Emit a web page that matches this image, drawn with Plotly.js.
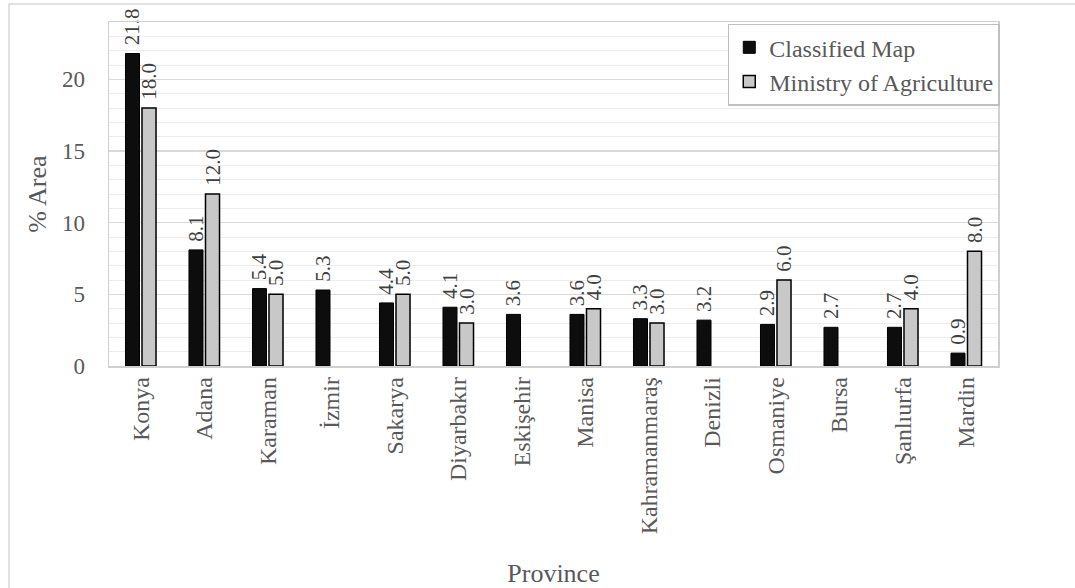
<!DOCTYPE html>
<html>
<head>
<meta charset="utf-8">
<script src="https://cdn.plot.ly/plotly-3.0.1.min.js"></script>
<style>html,body{margin:0;padding:0;background:#fff;}#chart{width:1075px;height:588px;}</style>
</head>
<body>
<div id="chart"></div>
<script>
const provinces = ["Konya","Adana","Karaman","İzmir","Sakarya","Diyarbakır","Eskişehir","Manisa","Kahramanmaraş","Denizli","Osmaniye","Bursa","Şanlıurfa","Mardin"];
const classifiedMap = [21.8, 8.1, 5.4, 5.3, 4.4, 4.1, 3.6, 3.6, 3.3, 3.2, 2.9, 2.7, 2.7, 0.9];
const ministryOfAgriculture = [18.0, 12.0, 5.0, null, 5.0, 3.0, null, 4.0, 3.0, null, 6.0, null, 4.0, 8.0];
const yTicks = [0, 5, 10, 15, 20];

const FONT = "Liberation Serif";
const labelFont = {family: FONT, size: 21, color: "#404040"};

const traces = [
  {
    type: "bar", name: "Classified Map", x: provinces, y: classifiedMap,
    marker: {color: "#0d0d0d", line: {color: "#000", width: 1}},
    texttemplate: "\u00a0%{y:.1f}", textposition: "outside", textangle: -90,
    textfont: labelFont, cliponaxis: false, constraintext: "none", hoverinfo: "x+y+name"
  },
  {
    type: "bar", name: "Ministry of Agriculture", x: provinces, y: ministryOfAgriculture,
    marker: {color: "#c8c8c8", line: {color: "#000", width: 1.5}},
    texttemplate: "\u00a0%{y:.1f}", textposition: "outside", textangle: -90,
    textfont: labelFont, cliponaxis: false, constraintext: "none", hoverinfo: "x+y+name"
  }
];

const layout = {
  width: 1075, height: 588,
  margin: {l: 109, r: 77, t: 22, b: 222},
  paper_bgcolor: "#fff", plot_bgcolor: "#fff",
  font: {family: FONT, color: "#595959", size: 23},
  barmode: "group", bargap: 0.48, bargroupgap: 0.15,
  showlegend: true,
  legend: {
    x: 1.002, xanchor: "right", y: 0.995, yanchor: "top",
    bgcolor: "#fff", bordercolor: "#bfbfbf", borderwidth: 1.5,
    font: {family: FONT, size: 24, color: "#595959"},
    tracegroupgap: 0, itemwidth: 30
  },
  xaxis: {
    type: "category", tickangle: -90, showgrid: false,
    showline: true, linecolor: "#d0d0d0", linewidth: 1.5, mirror: true,
    ticks: "", tickfont: {family: FONT, size: 24, color: "#595959"},
    title: {text: "Province", font: {family: FONT, size: 26, color: "#595959"}, standoff: 38},
    automargin: false
  },
  yaxis: {
    range: [0, 24], tickvals: yTicks, ticktext: yTicks.map(String),
    showgrid: true, gridcolor: "#d9d9d9", gridwidth: 1.5,
    minor: {dtick: 1, showgrid: true, gridcolor: "#ececec", gridwidth: 1, ticks: ""},
    showline: true, linecolor: "#d0d0d0", linewidth: 1.5, mirror: true,
    zeroline: false, ticks: "", ticklen: 0, ticklabelstandoff: 18,
    tickfont: {family: FONT, size: 23, color: "#595959"},
    title: {text: "% Area", font: {family: FONT, size: 26, color: "#595959"}, standoff: 8},
    automargin: false
  },
  shapes: [
    {type: "rect", xref: "paper", yref: "paper", x0: -0.1125, x1: 1.3, y0: -1.0, y1: 1.0523,
     line: {color: "#d9d9d9", width: 1.5}, fillcolor: "rgba(0,0,0,0)", layer: "below"}
  ]
};

Plotly.newPlot("chart", traces, layout, {displayModeBar: false, staticPlot: true});
</script>
</body>
</html>
